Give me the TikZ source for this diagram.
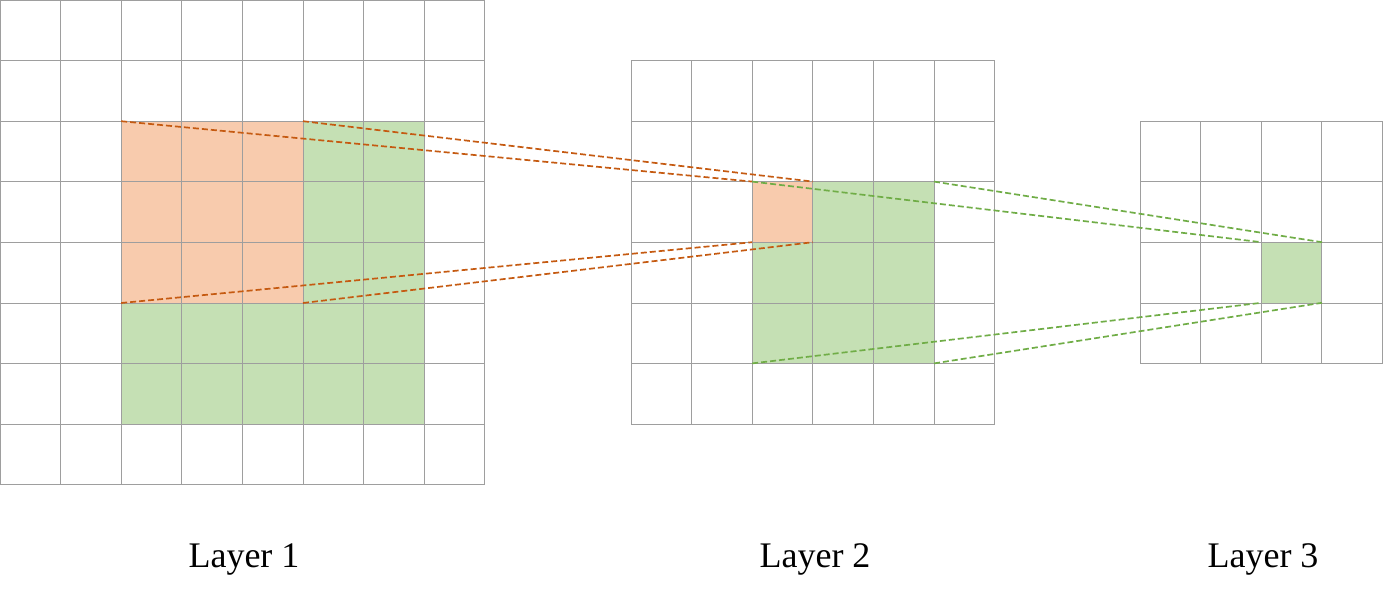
\documentclass[tikz,border=0pt]{standalone}
\usepackage{fontspec}
\setmainfont{Liberation Serif}
\definecolor{orfill}{HTML}{F8CBAD}
\definecolor{grfill}{HTML}{C5E0B4}
\definecolor{orline}{HTML}{C55A11}
\definecolor{grline}{HTML}{70AD47}
\tikzset{
  gridline/.style={draw=black!38, line width=0.7pt},
  ordash/.style={draw=orline, line width=1.7pt, dash pattern=on 6pt off 3pt},
  grdash/.style={draw=grline, line width=1.7pt, dash pattern=on 6pt off 3pt},
  lab/.style={font=\fontsize{36}{40}\selectfont, anchor=base}
}
\begin{document}
\begin{tikzpicture}[x=1pt,y=-1pt]
\useasboundingbox (0,0) rectangle (1384,599);
\def\c{60.6}
% Layer 1 fills
\fill[grfill] (121.2,121.2) rectangle (424.2,424.2);
\fill[orfill] (121.2,121.2) rectangle (303,303);
% Layer 2 fills
\fill[grfill] (752.2,181.6) rectangle (934,363.4);
\fill[orfill] (752.2,181.6) rectangle (812.8,242.2);
% Layer 3 fill
\fill[grfill] (1261.4,242.2) rectangle (1322,302.8);
% grids
\foreach \i in {0,...,8} {
  \draw[gridline] (\i*\c,0) -- (\i*\c,484.8);
  \draw[gridline] (0,\i*\c) -- (484.8,\i*\c);
}
\foreach \i in {0,...,6} {
  \draw[gridline] (631+\i*\c,60.6) -- (631+\i*\c,424.2);
  \draw[gridline] (631,60.6+\i*\c) -- (994.6,60.6+\i*\c);
}
\foreach \i in {0,...,4} {
  \draw[gridline] (1140+\i*\c,121.2) -- (1140+\i*\c,363.6);
  \draw[gridline] (1140,121.2+\i*\c) -- (1382.4,121.2+\i*\c);
}
% corner coordinates
\coordinate (a1) at (121.2,121.2);
\coordinate (a2) at (303,121.2);
\coordinate (a3) at (121.2,303);
\coordinate (a4) at (303,303);
\coordinate (b1) at (752.2,181.6);
\coordinate (b2) at (812.8,181.6);
\coordinate (b3) at (752.2,242.2);
\coordinate (b4) at (812.8,242.2);
\coordinate (b5) at (934,181.6);
\coordinate (b6) at (752.2,363.4);
\coordinate (b7) at (934,363.4);
\coordinate (c1) at (1261.4,242.2);
\coordinate (c2) at (1322,242.2);
\coordinate (c3) at (1261.4,302.8);
\coordinate (c4) at (1322,302.8);
% orange connectors
\draw[ordash] (a1) -- (b1);
\draw[ordash] (a2) -- (b2);
\draw[ordash] (a3) -- (b3);
\draw[ordash] (a4) -- (b4);
% green connectors
\draw[grdash] (b1) -- (c1);
\draw[grdash] (b5) -- (c2);
\draw[grdash] (b6) -- (c3);
\draw[grdash] (b7) -- (c4);
% labels
\node[lab] (l1) at (244,567) {Layer 1};
\node[lab] (l2) at (815,567) {Layer 2};
\node[lab] (l3) at (1263,567) {Layer 3};
\end{tikzpicture}
\end{document}
